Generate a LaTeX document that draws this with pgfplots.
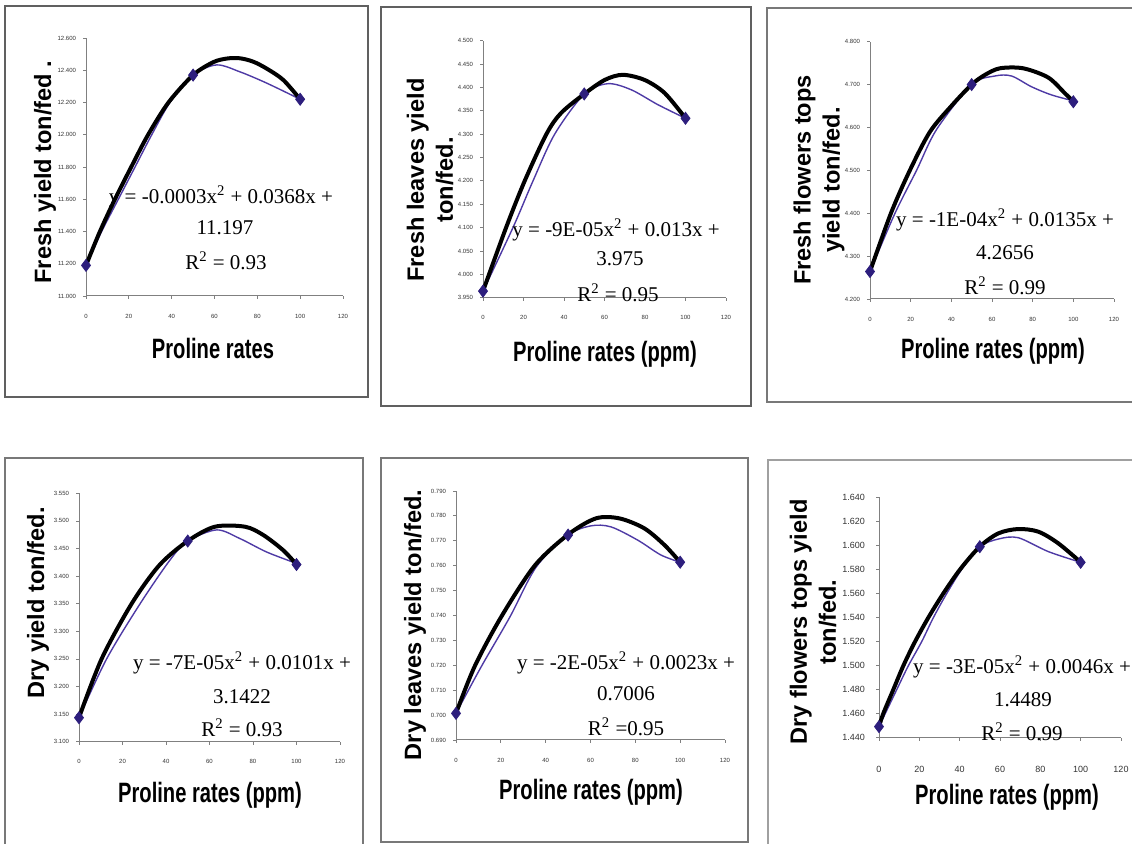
\documentclass[border=0pt]{standalone}
\usepackage{fontspec}
\setmainfont{Liberation Serif}
\newfontfamily\lblfont{Liberation Sans}
\newfontfamily\xlblfont[FakeStretch=0.72]{Liberation Sans}
\newfontfamily\tickfont{Liberation Sans}
\usepackage{pgfplots}
\pgfplotsset{compat=1.18}
\definecolor{trendblue}{RGB}{78,58,165}
\definecolor{markblue}{RGB}{45,30,125}
\definecolor{boxgray}{RGB}{120,120,120}
\pgfplotsset{
  panel/.style={
    scale only axis, anchor=south west, clip=false,
    xmin=0, xmax=120, xtick={0,20,40,60,80,100,120},
    axis lines*=left,
    axis line style={gray, line width=0.5pt},
    tick style={gray, line width=0.4pt},
    tick align=outside, major tick length=1.5pt,
    /pgf/number format/assume math mode=true,
    tick label style={font=\tickfont\fontsize{3}{3.5}\selectfont, text=black!80},
    xticklabel style={yshift=-4pt},
    yticklabel style={/pgf/number format/fixed, /pgf/number format/fixed zerofill, /pgf/number format/precision=3},
    xlabel style={font=\xlblfont\bfseries\fontsize{14}{16}\selectfont, anchor=center},
    ylabel style={font=\lblfont\bfseries\fontsize{11.8}{14.5}\selectfont, anchor=center, align=center},
  },
  blueline/.style={trendblue, line width=0.7pt, smooth},
  marks/.style={only marks, mark=diamond*, mark size=3pt, markblue},
  blackline/.style={black, line width=2pt, smooth},
}
\newcommand{\eqfont}{\fontsize{10.5}{12}\selectfont}
\begin{document}
\begin{tikzpicture}
\useasboundingbox (0pt,0pt) rectangle (566pt,-422pt);
% panel frames
\draw[boxgray!80!black, line width=0.9pt] (2.5pt,-3pt) rectangle (184pt,-198.5pt);
\draw[boxgray!80!black, line width=0.9pt] (190.5pt,-3.5pt) rectangle (375.5pt,-203pt);
\draw[boxgray, line width=0.9pt] (383.5pt,-4pt) rectangle (570pt,-201pt);
\draw[boxgray, line width=0.9pt] (2.5pt,-229pt) rectangle (181.5pt,-426pt);
\draw[boxgray, line width=0.9pt] (190.5pt,-229pt) rectangle (374pt,-421pt);
\draw[boxgray!70, line width=0.9pt] (384pt,-230pt) rectangle (570pt,-426pt);

% Panel 1
\begin{axis}[panel, at={(43pt,-148pt)}, width=128.5pt, height=129pt,
  ymin=11, ymax=12.6, ytick={11,11.2,11.4,11.6,11.8,12,12.2,12.4,12.6},
  xlabel={Proline rates}, ylabel={Fresh yield ton/fed .},
  xlabel style={at={(axis description cs:0.494,-0.2016)}},
  ylabel style={at={(axis description cs:-0.1595,0.4806)}}]
\addplot[blueline] coordinates {(0,11.19) (7.3,11.4) (15.1,11.6) (22.9,11.8) (30.7,12.0) (39.2,12.2) (50,12.37) (61,12.433) (71.9,12.39) (84.4,12.32) (100,12.22)};
\addplot[marks] coordinates {(0,11.19) (50,12.37) (100,12.22)};
\addplot[blackline] coordinates {(0,11.19) (6.5,11.40) (13.5,11.60) (21.5,11.81) (29,12.00) (38.5,12.20) (50,12.37) (59.4,12.45) (66,12.473) (72,12.474) (78.1,12.453) (84.4,12.41) (92.1,12.34) (100,12.22)};
\end{axis}

% Panel 2
\begin{axis}[panel, at={(241.5pt,-148.85pt)}, width=121.5pt, height=128.5pt,
  ymin=3.95, ymax=4.5, ytick={3.95,4,4.05,4.1,4.15,4.2,4.25,4.3,4.35,4.4,4.45,4.5},
  xlabel={Proline rates (ppm)}, ylabel={Fresh leaves yield\\ton/fed.},
  xlabel style={at={(axis description cs:0.502,-0.219)}},
  ylabel style={at={(axis description cs:-0.218,0.458)}}]
\addplot[blueline] coordinates {(0,3.964) (14.8,4.10) (24.7,4.20) (35.4,4.30) (50,4.386) (61.7,4.408) (73.2,4.395) (86.4,4.363) (100,4.334)};
\addplot[marks] coordinates {(0,3.964) (50,4.386) (100,4.334)};
\addplot[blackline] coordinates {(0,3.964) (11.4,4.10) (20.6,4.20) (31.3,4.30) (38.5,4.345) (50,4.386) (60.1,4.416) (69,4.427) (79.8,4.416) (89.7,4.388) (100,4.334)};
\end{axis}

% Panel 3
\begin{axis}[panel, at={(435pt,-149.5pt)}, width=122pt, height=128.65pt,
  ymin=4.2, ymax=4.8, ytick={4.2,4.3,4.4,4.5,4.6,4.7,4.8},
  xlabel={Proline rates (ppm)}, ylabel={Fresh flowers tops\\yield ton/fed.},
  xlabel style={at={(axis description cs:0.504,-0.202)}},
  ylabel style={at={(axis description cs:-0.209,0.4625)}}]
\addplot[blueline] coordinates {(0,4.264) (12.3,4.40) (22.9,4.50) (32.7,4.595) (50,4.70) (61.4,4.72) (69.6,4.72) (79.4,4.695) (89.2,4.676) (100,4.662)};
\addplot[marks] coordinates {(0,4.264) (50,4.70) (100,4.66)};
\addplot[blackline] coordinates {(0,4.264) (10.3,4.40) (19.6,4.50) (29.5,4.59) (40,4.65) (50,4.70) (56.5,4.7225) (63.9,4.738) (75.3,4.738) (87.6,4.7166) (95.8,4.68) (100,4.66)};
\end{axis}

% Panel 4
\begin{axis}[panel, at={(39.5pt,-370.85pt)}, width=130.5pt, height=124.2pt,
  ymin=3.1, ymax=3.55, ytick={3.1,3.15,3.2,3.25,3.3,3.35,3.4,3.45,3.5,3.55},
  xlabel={Proline rates (ppm)}, ylabel={Dry yield ton/fed.},
  xlabel style={at={(axis description cs:0.502,-0.2146)}},
  ylabel style={at={(axis description cs:-0.157,0.558)}}]
\addplot[blueline] coordinates {(0,3.1435) (12.7,3.25) (28.1,3.35) (42,3.43) (50,3.4636) (63.3,3.4837) (74,3.468) (86.3,3.4436) (100,3.423)};
\addplot[marks] coordinates {(0,3.1435) (50,3.4636) (100,3.421)};
\addplot[blackline] coordinates {(0,3.1435) (10.4,3.25) (24.2,3.35) (37,3.42) (50,3.4636) (62.5,3.4895) (76.3,3.4895) (84.7,3.4745) (93.9,3.4468) (100,3.421)};
\end{axis}

% Panel 5
\begin{axis}[panel, at={(228pt,-370pt)}, width=134.5pt, height=124.5pt,
  ymin=0.69, ymax=0.79, ytick={0.69,0.7,0.71,0.72,0.73,0.74,0.75,0.76,0.77,0.78,0.79},
  xlabel={Proline rates (ppm)}, ylabel={Dry leaves yield ton/fed.},
  xlabel style={at={(axis description cs:0.502,-0.2088)}},
  ylabel style={at={(axis description cs:-0.152,0.462)}}]
\addplot[blueline] coordinates {(0,0.7007) (11.3,0.7195) (24.1,0.7395) (35.8,0.7595) (50,0.7723) (60.2,0.776) (69.1,0.7756) (81,0.7703) (91.4,0.7643) (100,0.7614)};
\addplot[marks] coordinates {(0,0.7007) (50,0.7723) (100,0.7614)};
\addplot[blackline] coordinates {(0,0.7007) (8.3,0.7195) (20.2,0.7395) (35.1,0.7600) (50,0.7725) (62.4,0.779) (72.9,0.779) (84,0.775) (93,0.7683) (100,0.7614)};
\end{axis}

% Panel 6
\begin{axis}[panel, at={(439.5pt,-368.85pt)}, width=121pt, height=120.2pt,
  ymin=1.44, ymax=1.64, ytick={1.44,1.46,1.48,1.5,1.52,1.54,1.56,1.58,1.6,1.62,1.64},
  tick label style={font=\tickfont\fontsize{4.5}{5}\selectfont},
  xticklabel style={yshift=-5pt}, yticklabel style={xshift=-2pt},
  xlabel={Proline rates (ppm)}, ylabel={Dry flowers tops yield\\ton/fed.},
  xlabel style={at={(axis description cs:0.529,-0.2467)}},
  ylabel style={at={(axis description cs:-0.2727,0.481)}}]
\addplot[blueline] coordinates {(0,1.4492) (8.8,1.48) (14.6,1.50) (21.2,1.52) (27,1.54) (33.6,1.56) (41,1.58) (50,1.5989) (59.2,1.6053) (69,1.6064) (84,1.5948) (100,1.5859)};
\addplot[marks] coordinates {(0,1.4492) (50,1.5989) (100,1.5859)};
\addplot[blackline] coordinates {(0,1.4492) (2.1,1.46) (7.1,1.48) (12.1,1.50) (17.9,1.52) (24.5,1.54) (31.9,1.56) (40.2,1.58) (50,1.599) (59.2,1.610) (69,1.6136) (79,1.6114) (88.9,1.6017) (100,1.586)};
\end{axis}

% trendline equations
\begin{scope}[every node/.style={font=\eqfont, inner sep=0pt, anchor=center}]
\node at (110.5pt,-98.5pt) {y = -0.0003x\textsuperscript{2} + 0.0368x +};
\node at (112.5pt,-114pt) {11.197};
\node at (113pt,-130.5pt) {R\textsuperscript{2} = 0.93};
\node at (308pt,-115pt) {y = -9E-05x\textsuperscript{2} + 0.013x +};
\node at (310pt,-129.5pt) {3.975};
\node at (309pt,-146.5pt) {R\textsuperscript{2} = 0.95};
\node at (502.5pt,-110pt) {y = -1E-04x\textsuperscript{2} + 0.0135x +};
\node at (502.5pt,-126.5pt) {4.2656};
\node at (502.5pt,-143pt) {R\textsuperscript{2} = 0.99};
\node at (121pt,-331.5pt) {y = -7E-05x\textsuperscript{2} + 0.0101x +};
\node at (121pt,-348.5pt) {3.1422};
\node at (121pt,-364pt) {R\textsuperscript{2} = 0.93};
\node at (313pt,-331.5pt) {y = -2E-05x\textsuperscript{2} + 0.0023x +};
\node at (313pt,-347pt) {0.7006};
\node at (313pt,-363.5pt) {R\textsuperscript{2} =0.95};
\node at (511pt,-333.5pt) {y = -3E-05x\textsuperscript{2} + 0.0046x +};
\node at (511.5pt,-350pt) {1.4489};
\node at (511pt,-366pt) {R\textsuperscript{2} = 0.99};
\end{scope}
\end{tikzpicture}
\end{document}
